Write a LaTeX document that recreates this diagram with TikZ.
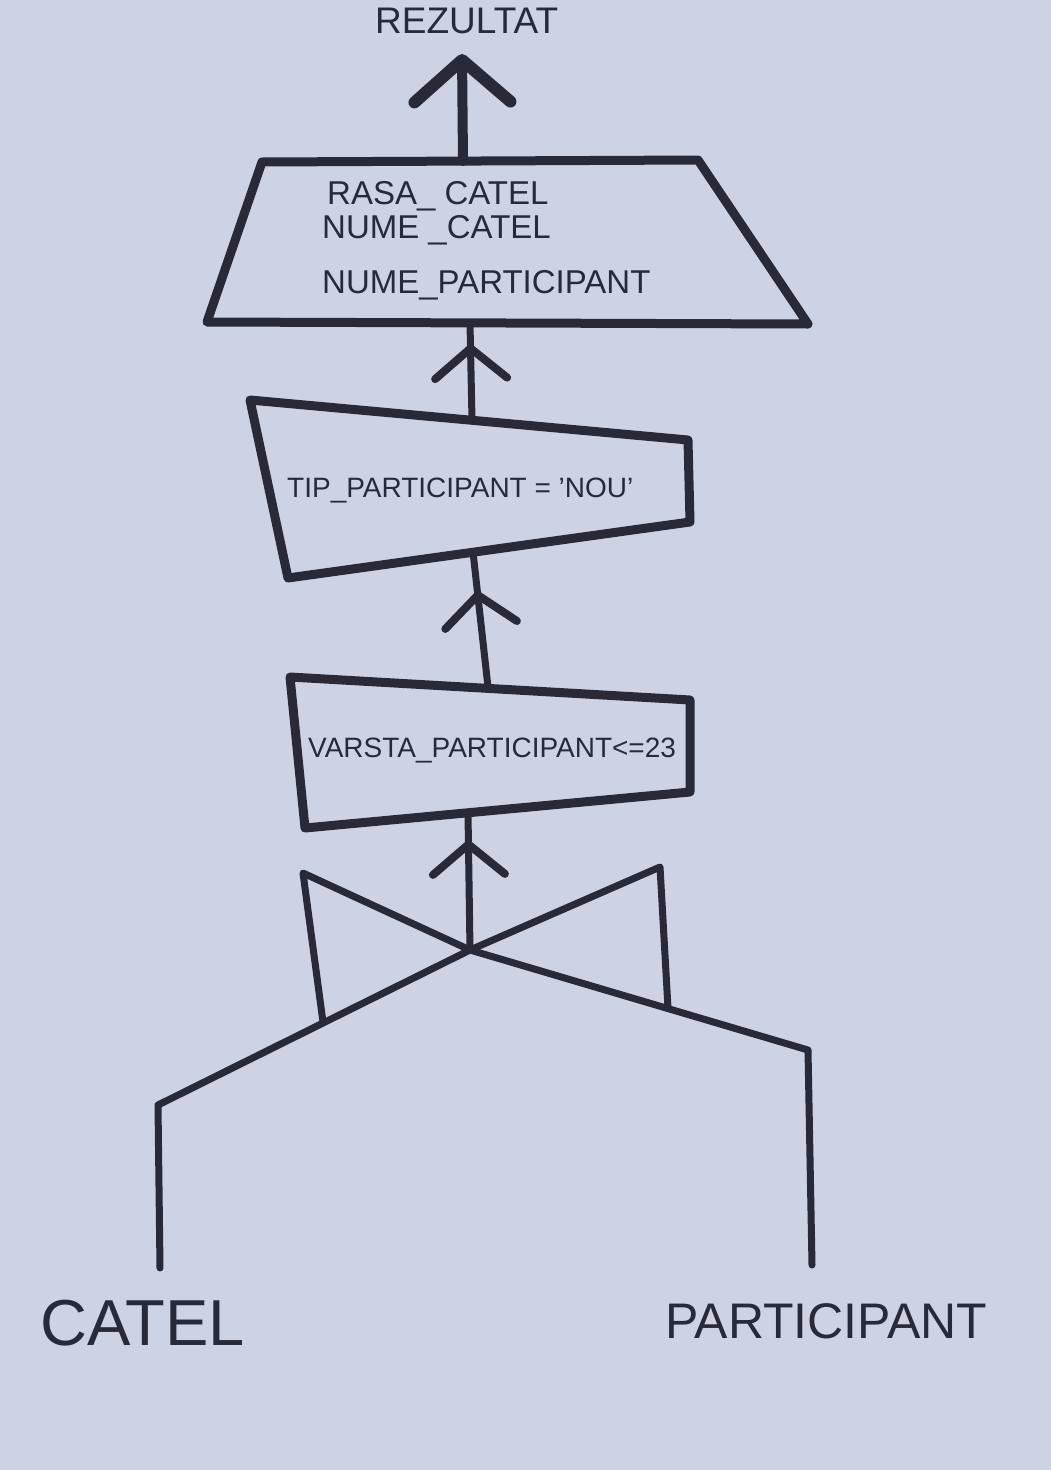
\documentclass[tikz,border=0pt]{standalone}
\usepackage{fontspec}
\setmainfont{Liberation Sans}
\usetikzlibrary{arrows.meta,decorations.markings}

\definecolor{paper}{RGB}{206,211,227}
\definecolor{ink}{RGB}{40,42,56}

\begin{document}
\begin{tikzpicture}[
    x=1pt, y=-1pt,
    shapeline/.style={draw=ink, line width=9pt, line join=round, line cap=round},
    link/.style={draw=ink, line width=7pt, line join=round, line cap=round},
    chevron/.tip={Straight Barb[length=30pt, width=72pt, line width=8pt, round]},
    midarrow/.style={postaction={decorate},
        decoration={markings, mark=at position #1 with {\arrow{chevron}}}},
    label/.style={text=ink, inner sep=0pt, anchor=base west},
    opfont/.style={font=\fontsize{33pt}{36pt}\selectfont},
    condfont/.style={font=\fontsize{28pt}{30pt}\selectfont},
]

% Paper
\fill[paper] (0,0) rectangle (1051,1470);
\useasboundingbox (0,0) rectangle (1051,1470);

% Projection (top trapezoid)
\draw[shapeline] (262,162) -- (698,160) -- (808,324) -- (207,322) -- cycle;
\coordinate (projTop) at (463,161);
\coordinate (projBot) at (470,323);
\node[label, opfont] (rasa) at (327,204) {RASA\_ CATEL};
\node[label, opfont] (numecatel) at (322,238) {NUME \_CATEL};
\node[label, opfont] (numepart) at (322,293) {NUME\_PARTICIPANT};

% Selection on type
\draw[shapeline] (250,400) -- (688,440) -- (690,522) -- (288,578) -- cycle;
\coordinate (tipTop) at (472,420);
\coordinate (tipBot) at (473,552);
\node[label, condfont] (tip) at (287,497) {TIP\_PARTICIPANT = 'NOU'};

% Selection on age
\draw[shapeline] (290,677) -- (690,700) -- (690,792) -- (305,828) -- cycle;
\coordinate (varstaTop) at (488,687);
\coordinate (varstaBot) at (468,813);
\node[label, condfont] (varsta) at (308,757) {VARSTA\_PARTICIPANT<=23};

% Result
\coordinate (out) at (462,54);
\node[label, font=\fontsize{37pt}{40pt}\selectfont] (rezultat) at (375,33) {REZULTAT};
\draw[link, line width=10pt,
      -{Straight Barb[length=42pt, width=96pt, line width=12pt, round]}]
      (projTop) -- (out);

% Arrows between operators
\draw[link, midarrow=0.78] (tipTop) -- (projBot);
\draw[link, midarrow=0.71] (varstaTop) -- (tipBot);

% Join
\coordinate (join) at (470,950);
\coordinate (catelEnd) at (160,1268);
\coordinate (partEnd) at (812,1265);
\draw[link] (catelEnd) -- (158,1105) -- (join);
\draw[link] (partEnd) -- (808,1050) -- (join);
\draw[link] (323,1022) -- (303,873) -- (join) -- (660,867) -- (668,1008);
\draw[link, midarrow=0.8] (join) -- (varstaBot);

% Relations
\node[label, font=\fontsize{65pt}{70pt}\selectfont] (catel) at (40,1345) {CATEL};
\node[label, font=\fontsize{50pt}{55pt}\selectfont] (participant) at (665,1338) {PARTICIPANT};

\end{tikzpicture}
\end{document}
